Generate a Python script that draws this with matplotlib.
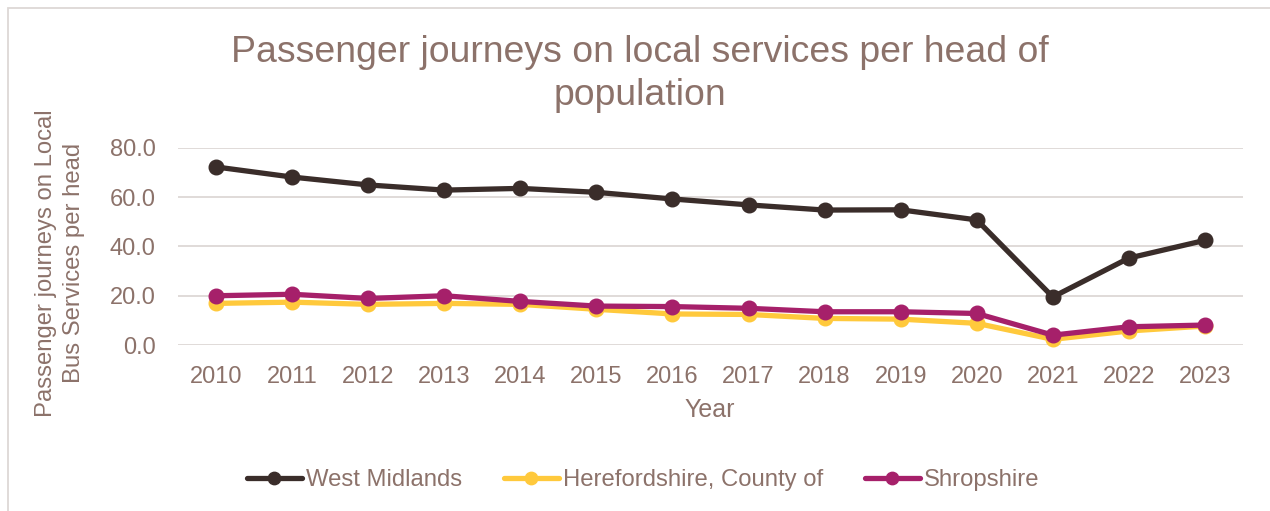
import matplotlib
matplotlib.use("Agg")
import matplotlib.pyplot as plt
from matplotlib.patches import Rectangle

years = ["2010", "2011", "2012", "2013", "2014", "2015", "2016", "2017",
         "2018", "2019", "2020", "2021", "2022", "2023"]
west_midlands = [72.3, 68.2, 65.0, 62.9, 63.6, 62.0, 59.3, 56.9, 54.8, 54.9, 50.8, 19.5, 35.3, 42.5]
herefordshire = [16.9, 17.4, 16.5, 16.9, 16.5, 14.5, 12.6, 12.4, 10.8, 10.5, 8.8, 2.3, 5.7, 7.7]
shropshire = [20.0, 20.6, 18.9, 20.0, 17.7, 15.8, 15.6, 14.9, 13.5, 13.5, 12.8, 4.0, 7.4, 8.1]
yticks = [0, 20, 40, 60, 80]

TXT = "#8C726A"
GRID = "#DDD8D5"
plt.rcParams["font.family"] = ["Liberation Sans", "DejaVu Sans"]

W, H = 1270, 511
fig = plt.figure(figsize=(W / 100, H / 100), dpi=100)
ax = fig.add_axes([178 / W, 1 - 345 / H, (1243 - 178) / W, (345 - 148) / H])

x = list(range(len(years)))
series = [
    ("West Midlands", west_midlands, "#3A2D2A"),
    ("Herefordshire, County of", herefordshire, "#FFC93C"),
    ("Shropshire", shropshire, "#A6206A"),
]
for name, vals, col in series:
    ax.plot(x, vals, color=col, lw=3.8, marker="o", ms=10.5,
            solid_capstyle="round", label=name, zorder=3, clip_on=False)

ax.set_xlim(-0.5, len(years) - 0.5)
ax.set_ylim(0, 80)
ax.set_yticks(yticks)
ax.set_yticklabels([f"{v:.1f}" for v in yticks])
ax.set_xticks(x)
ax.set_xticklabels(years)
ax.grid(axis="y", color=GRID, lw=1.3)
ax.set_axisbelow(True)
for s in ax.spines.values():
    s.set_visible(False)
ax.tick_params(length=0, labelsize=17, colors=TXT)
ax.tick_params(axis="x", pad=15)
ax.tick_params(axis="y", pad=16)

fig.text(640 / W, 1 - 74 / H, "Passenger journeys on local services per head of\npopulation",
         ha="center", va="center", fontsize=26.9, color=TXT, linespacing=1.3)
fig.text(60 / W, 1 - 263 / H, "Passenger journeys on Local\nBus Services per head",
         ha="center", va="center", rotation=90, fontsize=17.2, color=TXT, linespacing=1.3)
fig.text(710 / W, 1 - 410 / H, "Year", ha="center", va="center", fontsize=18, color=TXT)

leg = fig.legend(loc="center", bbox_to_anchor=(643 / W, 1 - 480 / H), ncol=3,
                 frameon=False, fontsize=17.2, labelcolor=TXT, handlelength=2.3,
                 handletextpad=0.17, columnspacing=1.75, markerscale=0.85)

fig.patches.append(Rectangle((8 / W, -0.05), 1.1, 1 - 8 / H + 0.05, transform=fig.transFigure,
                             fill=False, edgecolor=GRID, lw=1.3, zorder=0))

fig.savefig("out.png", dpi=100, facecolor="white")
